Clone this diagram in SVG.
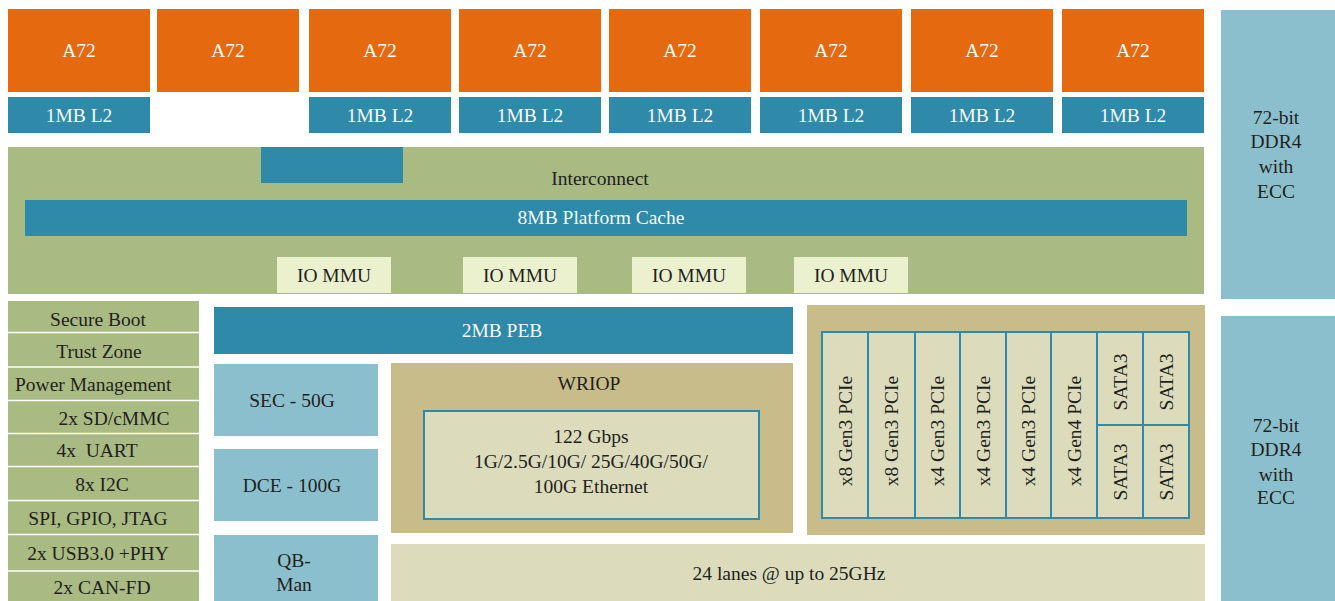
<svg xmlns="http://www.w3.org/2000/svg" width="1335" height="601" viewBox="0 0 1335 601">
<style>
text{font-family:"Liberation Serif","Times New Roman",serif;font-size:19.5px;text-anchor:middle;fill:#231F20}
.w{fill:#F7F7F7}
.core{fill:#E5690E}
.teal{fill:#2E8AA8}
.grn{fill:#A9BA83}
.mmu{fill:#EBF0CF}
.lb{fill:#8BBFCD}
.tan{fill:#C7BC8A}
.bg{fill:#DCDCBC}
.cell{fill:#DCDCBC;stroke:#2E8AA8;stroke-width:2}
.sep{stroke:#FFFFFF;stroke-width:1.6}
.l{text-anchor:start}
</style>
<rect width="1335" height="601" fill="#FFFFFF"/>
<g id="cores">
<g id="core1"><rect class="core" x="8" y="9" width="142" height="83"/><text class="w" x="79" y="57">A72</text><rect class="teal" x="8" y="97" width="142" height="36"/><text class="w" x="79" y="122">1MB L2</text></g>
<g id="core2"><rect class="core" x="157" y="9" width="142" height="83"/><text class="w" x="228" y="57">A72</text></g>
<g id="core3"><rect class="core" x="309" y="9" width="142" height="83"/><text class="w" x="380" y="57">A72</text><rect class="teal" x="309" y="97" width="142" height="36"/><text class="w" x="380" y="122">1MB L2</text></g>
<g id="core4"><rect class="core" x="459" y="9" width="142" height="83"/><text class="w" x="530" y="57">A72</text><rect class="teal" x="459" y="97" width="142" height="36"/><text class="w" x="530" y="122">1MB L2</text></g>
<g id="core5"><rect class="core" x="609" y="9" width="142" height="83"/><text class="w" x="680" y="57">A72</text><rect class="teal" x="609" y="97" width="142" height="36"/><text class="w" x="680" y="122">1MB L2</text></g>
<g id="core6"><rect class="core" x="760" y="9" width="142" height="83"/><text class="w" x="831" y="57">A72</text><rect class="teal" x="760" y="97" width="142" height="36"/><text class="w" x="831" y="122">1MB L2</text></g>
<g id="core7"><rect class="core" x="911" y="9" width="142" height="83"/><text class="w" x="982" y="57">A72</text><rect class="teal" x="911" y="97" width="142" height="36"/><text class="w" x="982" y="122">1MB L2</text></g>
<g id="core8"><rect class="core" x="1062" y="9" width="142" height="83"/><text class="w" x="1133" y="57">A72</text><rect class="teal" x="1062" y="97" width="142" height="36"/><text class="w" x="1133" y="122">1MB L2</text></g>
</g>
<g id="interconnect">
<rect class="grn" x="8" y="147" width="1196" height="147"/>
<rect class="teal" x="261" y="147" width="142" height="36"/>
<text x="600" y="185">Interconnect</text>
<rect class="teal" x="25" y="200" width="1162" height="36"/>
<text class="w" x="601" y="224">8MB Platform Cache</text>
<rect class="mmu" x="277" y="257" width="114" height="36"/><text x="334" y="282">IO MMU</text>
<rect class="mmu" x="463" y="257" width="114" height="36"/><text x="520" y="282">IO MMU</text>
<rect class="mmu" x="632" y="257" width="114" height="36"/><text x="689" y="282">IO MMU</text>
<rect class="mmu" x="794" y="257" width="114" height="36"/><text x="851" y="282">IO MMU</text>
</g>
<g id="ddr1"><rect class="lb" x="1221" y="10" width="114" height="289"/>
<text x="1276" y="124">72-bit</text><text x="1276" y="148">DDR4</text><text x="1276" y="173">with</text><text x="1276" y="198">ECC</text></g>
<g id="ddr2"><rect class="lb" x="1221" y="316" width="114" height="285"/>
<text x="1276" y="432">72-bit</text><text x="1276" y="456">DDR4</text><text x="1276" y="481">with</text><text x="1276" y="504">ECC</text></g>
<g id="peripherals">
<rect class="grn" x="8" y="301" width="191" height="300"/>
<line class="sep" x1="8" y1="332.5" x2="199" y2="332.5"/>
<line class="sep" x1="8" y1="367" x2="199" y2="367"/>
<line class="sep" x1="8" y1="400.5" x2="199" y2="400.5"/>
<line class="sep" x1="8" y1="433.5" x2="199" y2="433.5"/>
<line class="sep" x1="8" y1="466.5" x2="199" y2="466.5"/>
<line class="sep" x1="8" y1="500.5" x2="199" y2="500.5"/>
<line class="sep" x1="8" y1="534.5" x2="199" y2="534.5"/>
<line class="sep" x1="8" y1="571" x2="199" y2="571"/>
<text x="98" y="326">Secure Boot</text>
<text x="99" y="358">Trust Zone</text>
<text class="l" x="15" y="391">Power Management</text>
<text x="114" y="425">2x SD/cMMC</text>
<text x="97" y="457">4x&#160; UART</text>
<text x="102" y="491">8x I2C</text>
<text x="98" y="525">SPI, GPIO, JTAG</text>
<text x="98" y="560">2x USB3.0 +PHY</text>
<text x="102" y="594">2x CAN-FD</text>
</g>
<g id="peb"><rect class="teal" x="214" y="307" width="579" height="47"/><text class="w" x="502" y="337">2MB PEB</text></g>
<g id="sec"><rect class="lb" x="214" y="364" width="164" height="72"/><text x="292" y="407">SEC - 50G</text></g>
<g id="dce"><rect class="lb" x="214" y="449" width="164" height="72"/><text x="292" y="492">DCE - 100G</text></g>
<g id="qbman"><rect class="lb" x="214" y="535" width="164" height="66"/><text x="294" y="567">QB-</text><text x="294" y="591">Man</text></g>
<g id="wriop">
<rect class="tan" x="391" y="363" width="402" height="170"/>
<text x="589" y="390">WRIOP</text>
<rect class="cell" x="424" y="411" width="335" height="108"/>
<text x="591" y="443">122 Gbps</text>
<text x="591" y="468">1G/2.5G/10G/ 25G/40G/50G/</text>
<text x="591" y="493">100G Ethernet</text>
</g>
<g id="serdes"><rect class="bg" x="391" y="544" width="814" height="57"/><text x="789" y="580">24 lanes @ up to 25GHz</text></g>
<g id="hsio">
<rect class="tan" x="807" y="305" width="398" height="230"/>
<rect class="cell" x="822" y="332" width="46" height="186"/>
<rect class="cell" x="868" y="332" width="47" height="186"/>
<rect class="cell" x="915" y="332" width="45" height="186"/>
<rect class="cell" x="960" y="332" width="46" height="186"/>
<rect class="cell" x="1006" y="332" width="45" height="186"/>
<rect class="cell" x="1051" y="332" width="46" height="186"/>
<rect class="cell" x="1097" y="332" width="46" height="93"/>
<rect class="cell" x="1143" y="332" width="46" height="93"/>
<rect class="cell" x="1097" y="425" width="46" height="93"/>
<rect class="cell" x="1143" y="425" width="46" height="93"/>
<text transform="translate(852,431) rotate(-90)">x8 Gen3 PCIe</text>
<text transform="translate(898,431) rotate(-90)">x8 Gen3 PCIe</text>
<text transform="translate(944,431) rotate(-90)">x4 Gen3 PCIe</text>
<text transform="translate(990,431) rotate(-90)">x4 Gen3 PCIe</text>
<text transform="translate(1035,431) rotate(-90)">x4 Gen3 PCIe</text>
<text transform="translate(1081,431) rotate(-90)">x4 Gen4 PCIe</text>
<text transform="translate(1127,382) rotate(-90)">SATA3</text>
<text transform="translate(1173,382) rotate(-90)">SATA3</text>
<text transform="translate(1127,472) rotate(-90)">SATA3</text>
<text transform="translate(1173,472) rotate(-90)">SATA3</text>
</g>
<g id="connectors"></g>
</svg>
